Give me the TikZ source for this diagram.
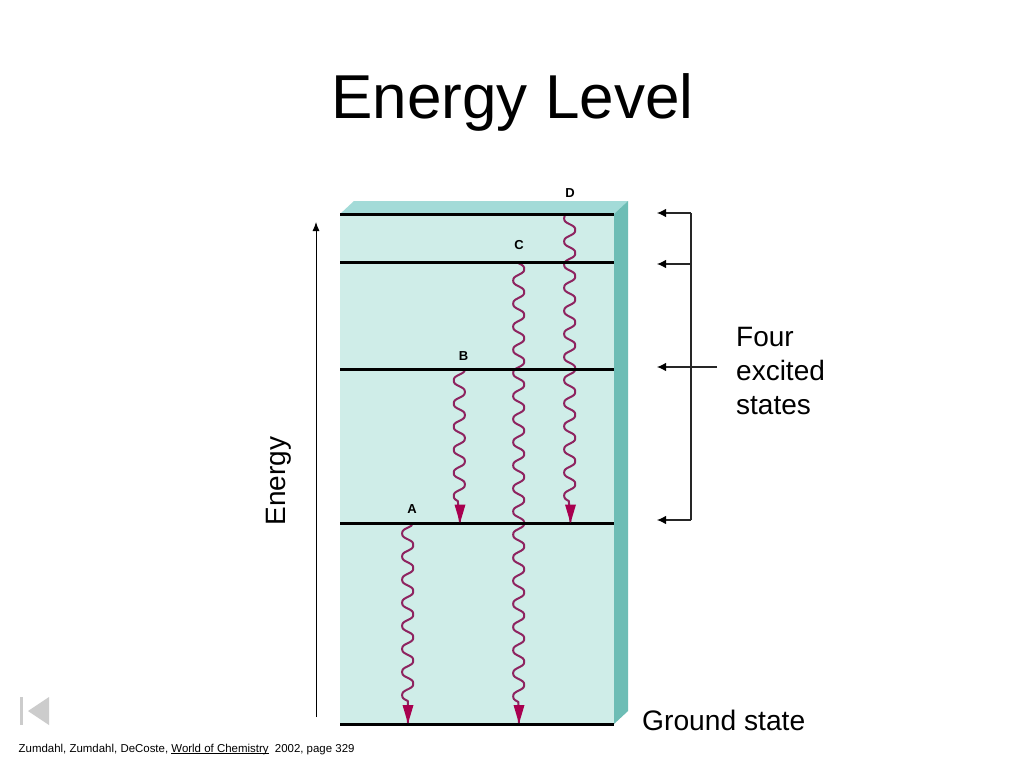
\documentclass[tikz,border=0pt]{standalone}
\usepackage{fontspec}
\setmainfont{Liberation Sans}
\usetikzlibrary{arrows.meta}
\definecolor{panel}{HTML}{CFEDE8}
\definecolor{paneltop}{HTML}{A3DBD8}
\definecolor{panelside}{HTML}{6DBDB5}
\definecolor{wave}{HTML}{8E2460}
\definecolor{wavetip}{HTML}{A8004F}
\definecolor{iconc}{HTML}{CCCCCC}
\tikzset{
 x=1pt,y=-1pt,
 declare function={cw(\t)=cos(15.584*\t);},
 level/.style={line width=2.8pt,black},
 emission/.style={wave,line width=2pt,line join=round},
 tiptri/.style={fill=wavetip,draw=none},
 bracket/.style={line width=1.1pt,black!85},
 bracketarrow/.style={line width=1.1pt,black!85,-{Latex[length=9pt,width=8.5pt,black]}},
 axisarrow/.style={line width=0.9pt,black,-{Latex[length=9pt,width=7pt]}},
 letter/.style={font=\fontsize{13}{14}\selectfont\bfseries,inner sep=0pt},
 big/.style={font=\fontsize{28}{34}\selectfont,inner sep=0pt,align=left},
}
% #1 start coordinate, #2 tip coordinate, #3 length of the wavy part, #4 distance from start to first right crest
\newcommand{\emit}[4]{%
 \draw[emission,shift={(#1)}] plot[domain=0:#3,samples=300] ({6.0*(1.25*cw(\x-#4)-0.3333*cw(\x-#4)*cw(\x-#4)*cw(\x-#4))},\x) -- (#2);
}
\newcommand{\wavetip}[1]{\fill[tiptri] (#1) ++(-5.5,-18.5) -- ++(11,0) -- (#1) -- cycle;}
\begin{document}
\begin{tikzpicture}
\useasboundingbox (0,0) rectangle (1024,768);
\fill[white] (0,0) rectangle (1024,768);
\node[inner sep=0pt,font=\fontsize{62}{70}\selectfont] (title) at (512.5,102) {Energy Level};
% panel
\fill[panel] (340,214) rectangle (614,724);
\fill[paneltop] (340,214) -- (354,201) -- (628,201) -- (614,214) -- cycle;
\fill[panelside] (614,214) -- (628,201) -- (628,711) -- (614,724) -- cycle;
% levels
\coordinate (l1a) at (340,214.5); \coordinate (l1b) at (614,214.5);
\coordinate (l2a) at (340,262.2); \coordinate (l2b) at (614,262.2);
\coordinate (l3a) at (340,369.5); \coordinate (l3b) at (614,369.5);
\coordinate (l4a) at (340,523.5); \coordinate (l4b) at (614,523.5);
\coordinate (l5a) at (340,724.5); \coordinate (l5b) at (614,724.5);
% emissions
\coordinate (Ds) at (569.7,216); \coordinate (De) at (570.5,523);
\coordinate (Cs) at (518.7,263); \coordinate (Ce) at (519,723.5);
\coordinate (Bs) at (459.3,370); \coordinate (Be) at (460,523);
\coordinate (As) at (407.7,525); \coordinate (Ae) at (408,723.5);
\emit{Ds}{De}{285}{14}
\emit{Cs}{Ce}{439}{6}
\emit{Bs}{Be}{131}{22}
\emit{As}{Ae}{176}{20}
\foreach \n in {l1,l2,l3,l4,l5}{\draw[level] (\n a) -- (\n b);}
\wavetip{De}
\wavetip{Be}
\wavetip{Ce}
\wavetip{Ae}
\node[letter] (D) at (570,193) {D};
\node[letter] (C) at (519,245) {C};
\node[letter] (B) at (463.5,356) {B};
\node[letter] (A) at (412,509.5) {A};
% energy axis
\coordinate (ea) at (316,717); \coordinate (eb) at (316,222);
\draw[axisarrow] (ea) -- (eb);
\node[big,rotate=90] (energy) at (279,481) {Energy};
% bracket
\coordinate (bt) at (691,213); \coordinate (bu) at (691,264); \coordinate (bb) at (691,520);
\coordinate (at) at (657,213); \coordinate (au) at (657,264); \coordinate (ab) at (657,520);
\coordinate (mm) at (717,367); \coordinate (am) at (657,367);
\draw[bracket] (bt) -- (bb);
\draw[bracketarrow] (bt) -- (at);
\draw[bracketarrow] (bu) -- (au);
\draw[bracketarrow] (bb) -- (ab);
\draw[bracketarrow] (mm) -- (am);
\node[big,anchor=west] (four) at (736,371) {Four\\excited\\states};
\node[big,anchor=west,font=\fontsize{28.2}{34}\selectfont] (ground) at (642,720) {Ground state};
% icon
\fill[iconc] (20,697) rectangle (23,725);
\fill[iconc] (49,697) -- (49,725) -- (28,711) -- cycle;
\node[anchor=base west,inner sep=0pt,font=\fontsize{11.45}{13}\selectfont] (cite) at (18.5,752) {Zumdahl, Zumdahl, DeCoste, \underline{\smash{World of Chemistry}}\ \ 2002, page 329};
\end{tikzpicture}
\end{document}
